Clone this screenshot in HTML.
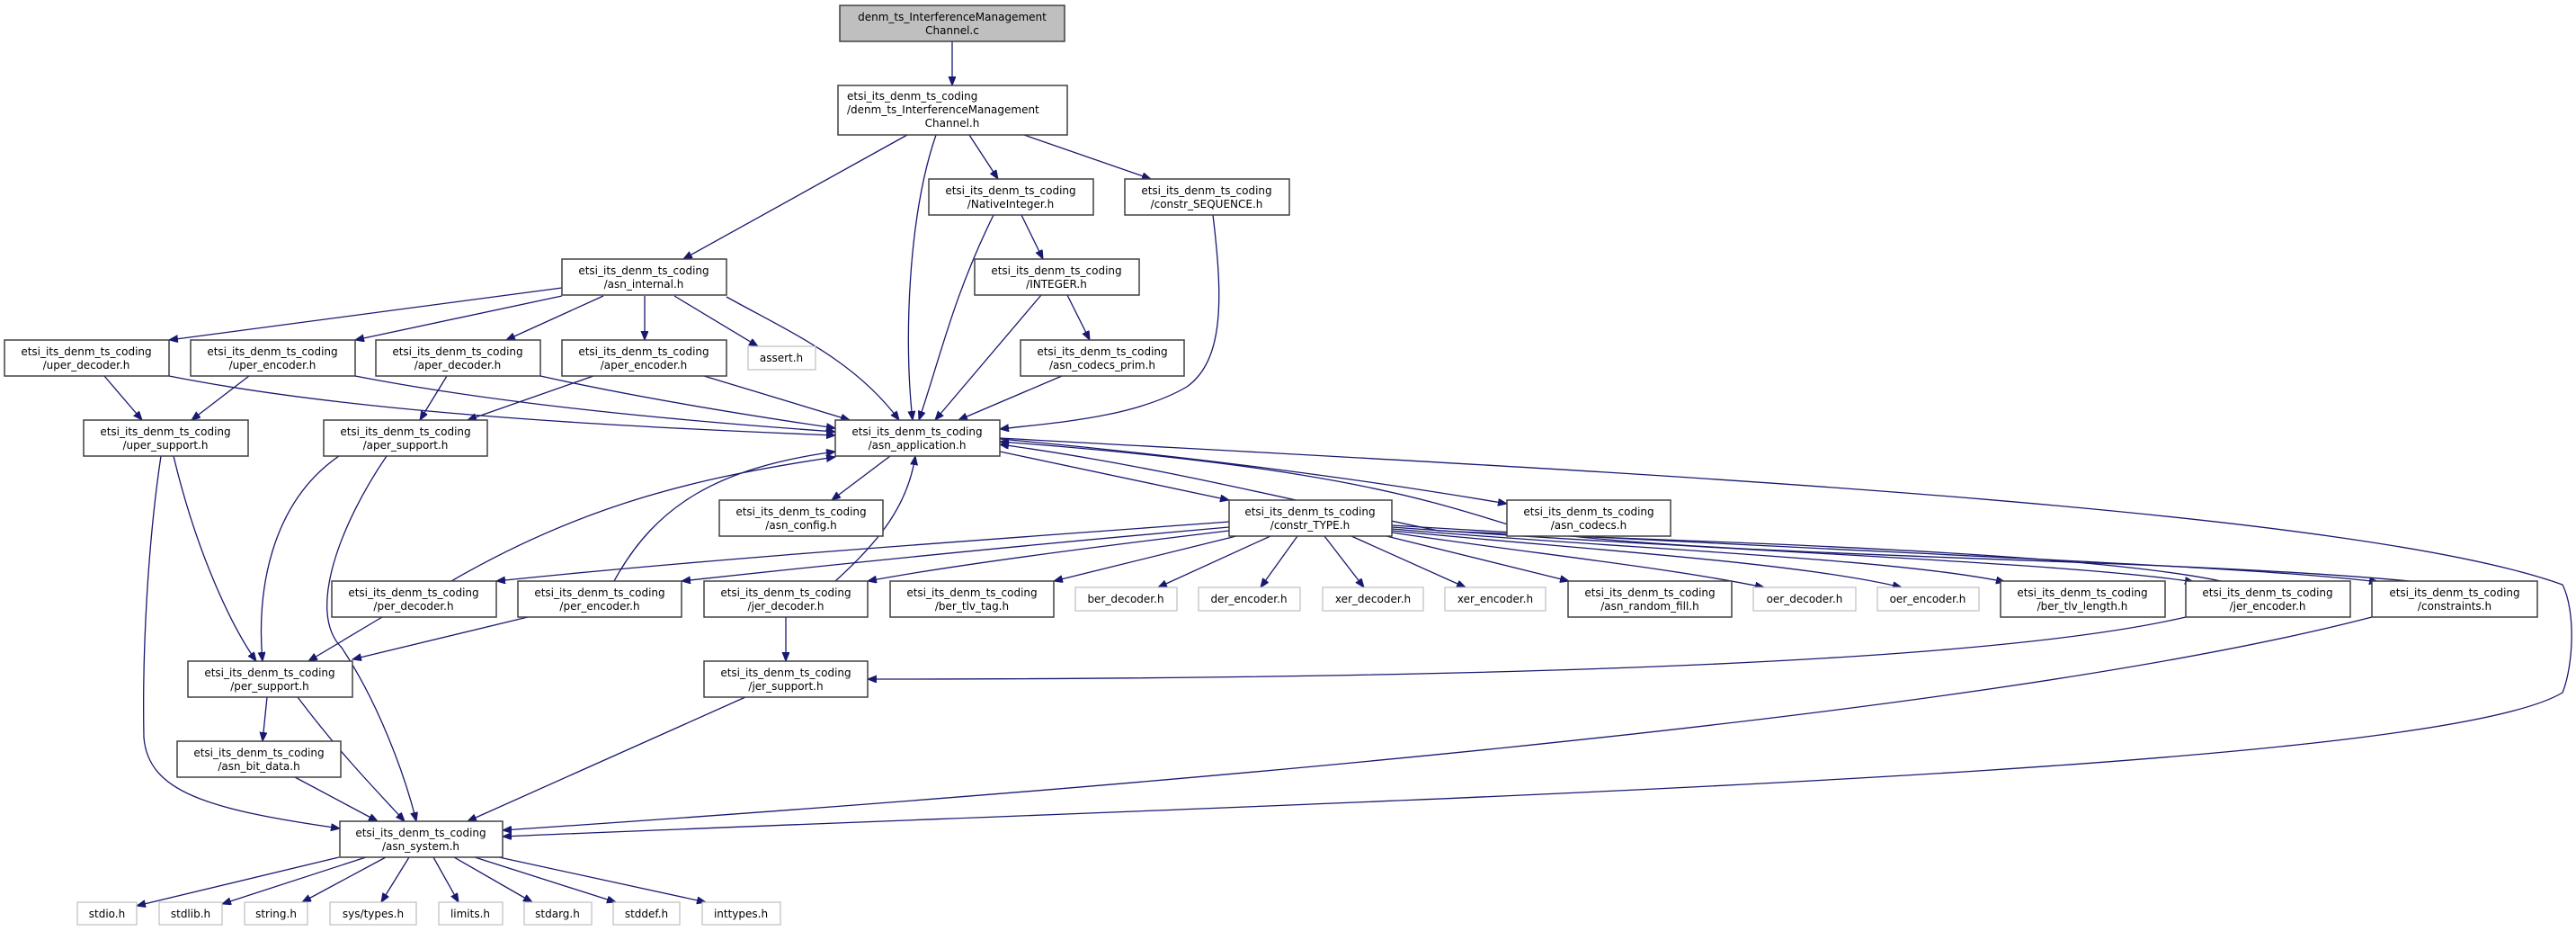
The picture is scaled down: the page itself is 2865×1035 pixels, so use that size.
<!DOCTYPE html>
<html><head><meta charset="utf-8"><style>
html,body{margin:0;padding:0;background:#fff;}
svg{display:block;}
text{font-family:"DejaVu Sans","Liberation Sans",sans-serif;font-size:12px;fill:#000;}
.e{fill:none;stroke:#191970;stroke-width:1.3;marker-end:url(#a);}
.n{fill:#fff;stroke:#404040;stroke-width:1.5;}
.g{fill:#fff;stroke:#bfbfbf;stroke-width:1.2;}
</style></head><body>
<svg width="2865" height="1035" viewBox="0 0 2865 1035" xmlns="http://www.w3.org/2000/svg">
<defs><marker id="a" markerUnits="userSpaceOnUse" markerWidth="11" markerHeight="9" refX="10" refY="4" orient="auto"><path d="M0,0 L10,4 L0,8 z" fill="#191970" stroke="#191970"/></marker></defs>

<!-- edges -->
<path class="e" d="M1059,46 L1059,95"/>
<path class="e" d="M1009,150 L760,288"/>
<path class="e" d="M1041,150 C1010,240 1005,380 1015,467"/>
<path class="e" d="M1078,150 L1110,199"/>
<path class="e" d="M1139,150 L1280,199"/>
<path class="e" d="M1105,239 C1060,330 1045,400 1022,467"/>
<path class="e" d="M1136,239 L1160,288"/>
<path class="e" d="M1349,239 C1360,330 1362,400 1320,430 C1260,465 1170,470 1112,477"/>
<path class="e" d="M1158,328 L1040,467"/>
<path class="e" d="M1187,328 L1212,378"/>
<path class="e" d="M1181,418 L1066,467"/>
<path class="e" d="M625,320 L188,378"/>
<path class="e" d="M625,329 L395,378"/>
<path class="e" d="M671,329 L563,378"/>
<path class="e" d="M717,329 L717,378"/>
<path class="e" d="M750,329 L843,385"/>
<path class="e" d="M808,330 C880,370 950,400 1000,467"/>
<path class="e" d="M116,418 L158,467"/>
<path class="e" d="M188,418 C400,460 700,475 929,484"/>
<path class="e" d="M277,418 L213,467"/>
<path class="e" d="M395,418 C560,450 760,468 929,480"/>
<path class="e" d="M497,418 L467,467"/>
<path class="e" d="M601,418 C700,440 820,460 929,476"/>
<path class="e" d="M660,418 L520,467"/>
<path class="e" d="M783,418 L945,467"/>
<path class="e" d="M179,507 C165,600 158,720 160,820 C165,880 230,900 378,921"/>
<path class="e" d="M193,507 C220,620 260,700 285,735"/>
<path class="e" d="M377,507 C300,560 285,660 292,735"/>
<path class="e" d="M430,507 C380,580 340,680 380,720 C420,780 450,860 463,913"/>
<path class="e" d="M990,507 L925,556"/>
<path class="e" d="M1112,502 L1367,556"/>
<path class="e" d="M1112,488 C1300,505 1500,530 1676,560"/>
<path class="e" d="M1112,487 C1700,520 2600,560 2850,650 C2865,680 2862,740 2850,770 C2700,860 1500,890 559,930"/>
<path class="e" d="M2638,686 C2200,800 1200,880 559,923"/>
<path class="e" d="M2431,686 C2200,740 1600,755 965,755"/>
<path class="e" d="M502,646 C650,560 780,530 929,508"/>
<path class="e" d="M683,646 C730,560 800,520 929,502"/>
<path class="e" d="M929,646 C980,600 1010,560 1018,507"/>
<path class="e" d="M2470,646 C2300,610 1800,600 1600,590 C1450,560 1300,520 1112,494"/>
<path class="e" d="M2680,646 C2400,620 1900,620 1700,590 C1600,560 1500,520 1112,491"/>
<path class="e" d="M1367,580 C1100,600 800,620 552,646"/>
<path class="e" d="M1367,586 C1150,605 950,625 758,646"/>
<path class="e" d="M1367,590 C1200,610 1050,630 965,646"/>
<path class="e" d="M1375,596 L1172,646"/>
<path class="e" d="M1413,596 L1288,653"/>
<path class="e" d="M1443,596 L1402,653"/>
<path class="e" d="M1473,596 L1517,653"/>
<path class="e" d="M1503,596 L1630,653"/>
<path class="e" d="M1542,596 L1745,646"/>
<path class="e" d="M1548,592 C1700,615 1850,630 1962,653"/>
<path class="e" d="M1548,590 C1750,610 2000,625 2115,653"/>
<path class="e" d="M1548,588 C1800,610 2100,620 2230,647"/>
<path class="e" d="M1548,586 C1900,612 2300,625 2440,647"/>
<path class="e" d="M1548,584 C2000,612 2500,628 2645,647"/>
<path class="e" d="M874,686 L874,735"/>
<path class="e" d="M829,775 L520,913"/>
<path class="e" d="M425,686 L343,735"/>
<path class="e" d="M587,686 L392,733"/>
<path class="e" d="M297,775 L292,824"/>
<path class="e" d="M331,775 C380,840 420,880 450,913"/>
<path class="e" d="M328,864 L420,913"/>
<path class="e" d="M377,953 L152,1007"/>
<path class="e" d="M407,953 L247,1005"/>
<path class="e" d="M429,953 L336,1003"/>
<path class="e" d="M455,953 L424,1003"/>
<path class="e" d="M482,953 L510,1003"/>
<path class="e" d="M505,953 L592,1003"/>
<path class="e" d="M528,953 L685,1003"/>
<path class="e" d="M555,953 L785,1003"/>

<!-- nodes -->
<rect x="934" y="6" width="250" height="40" fill="#bfbfbf" stroke="#404040" stroke-width="1.5"/>
<text x="1059" y="23" text-anchor="middle">denm_ts_InterferenceManagement</text>
<text x="1059" y="38" text-anchor="middle">Channel.c</text>

<rect class="n" x="932" y="95" width="255" height="55"/>
<text x="942" y="111">etsi_its_denm_ts_coding</text>
<text x="942" y="126">/denm_ts_InterferenceManagement</text>
<text x="1059" y="141" text-anchor="middle">Channel.h</text>

<g text-anchor="middle">
<rect class="n" x="1033" y="199" width="183" height="40"/><text x="1124" y="216">etsi_its_denm_ts_coding</text><text x="1124" y="231">/NativeInteger.h</text>
<rect class="n" x="1251" y="199" width="183" height="40"/><text x="1342" y="216">etsi_its_denm_ts_coding</text><text x="1342" y="231">/constr_SEQUENCE.h</text>
<rect class="n" x="1084" y="288" width="183" height="40"/><text x="1175" y="305">etsi_its_denm_ts_coding</text><text x="1175" y="320">/INTEGER.h</text>
<rect class="n" x="625" y="288" width="183" height="40"/><text x="716" y="305">etsi_its_denm_ts_coding</text><text x="716" y="320">/asn_internal.h</text>
<rect class="n" x="1135" y="378" width="182" height="40"/><text x="1226" y="395">etsi_its_denm_ts_coding</text><text x="1226" y="410">/asn_codecs_prim.h</text>
<rect class="n" x="5" y="378" width="183" height="40"/><text x="96" y="395">etsi_its_denm_ts_coding</text><text x="96" y="410">/uper_decoder.h</text>
<rect class="n" x="212" y="378" width="183" height="40"/><text x="303" y="395">etsi_its_denm_ts_coding</text><text x="303" y="410">/uper_encoder.h</text>
<rect class="n" x="418" y="378" width="183" height="40"/><text x="509" y="395">etsi_its_denm_ts_coding</text><text x="509" y="410">/aper_decoder.h</text>
<rect class="n" x="625" y="378" width="183" height="40"/><text x="716" y="395">etsi_its_denm_ts_coding</text><text x="716" y="410">/aper_encoder.h</text>
<rect class="g" x="832" y="385" width="75" height="26"/><text x="869" y="402">assert.h</text>
<rect class="n" x="93" y="467" width="183" height="40"/><text x="184" y="484">etsi_its_denm_ts_coding</text><text x="184" y="499">/uper_support.h</text>
<rect class="n" x="360" y="467" width="182" height="40"/><text x="451" y="484">etsi_its_denm_ts_coding</text><text x="451" y="499">/aper_support.h</text>
<rect class="n" x="929" y="467" width="183" height="40"/><text x="1020" y="484">etsi_its_denm_ts_coding</text><text x="1020" y="499">/asn_application.h</text>
<rect class="n" x="800" y="556" width="182" height="40"/><text x="891" y="573">etsi_its_denm_ts_coding</text><text x="891" y="588">/asn_config.h</text>
<rect class="n" x="1367" y="556" width="181" height="40"/><text x="1457" y="573">etsi_its_denm_ts_coding</text><text x="1457" y="588">/constr_TYPE.h</text>
<rect class="n" x="1676" y="556" width="182" height="40"/><text x="1767" y="573">etsi_its_denm_ts_coding</text><text x="1767" y="588">/asn_codecs.h</text>
<rect class="n" x="369" y="646" width="183" height="40"/><text x="460" y="663">etsi_its_denm_ts_coding</text><text x="460" y="678">/per_decoder.h</text>
<rect class="n" x="576" y="646" width="182" height="40"/><text x="667" y="663">etsi_its_denm_ts_coding</text><text x="667" y="678">/per_encoder.h</text>
<rect class="n" x="783" y="646" width="182" height="40"/><text x="874" y="663">etsi_its_denm_ts_coding</text><text x="874" y="678">/jer_decoder.h</text>
<rect class="n" x="990" y="646" width="182" height="40"/><text x="1081" y="663">etsi_its_denm_ts_coding</text><text x="1081" y="678">/ber_tlv_tag.h</text>
<rect class="g" x="1196" y="653" width="113" height="26"/><text x="1252" y="670">ber_decoder.h</text>
<rect class="g" x="1333" y="653" width="113" height="26"/><text x="1389" y="670">der_encoder.h</text>
<rect class="g" x="1471" y="653" width="112" height="26"/><text x="1527" y="670">xer_decoder.h</text>
<rect class="g" x="1607" y="653" width="112" height="26"/><text x="1663" y="670">xer_encoder.h</text>
<rect class="n" x="1744" y="646" width="182" height="40"/><text x="1835" y="663">etsi_its_denm_ts_coding</text><text x="1835" y="678">/asn_random_fill.h</text>
<rect class="g" x="1950" y="653" width="114" height="26"/><text x="2007" y="670">oer_decoder.h</text>
<rect class="g" x="2088" y="653" width="113" height="26"/><text x="2144" y="670">oer_encoder.h</text>
<rect class="n" x="2225" y="646" width="183" height="40"/><text x="2316" y="663">etsi_its_denm_ts_coding</text><text x="2316" y="678">/ber_tlv_length.h</text>
<rect class="n" x="2431" y="646" width="183" height="40"/><text x="2522" y="663">etsi_its_denm_ts_coding</text><text x="2522" y="678">/jer_encoder.h</text>
<rect class="n" x="2638" y="646" width="184" height="40"/><text x="2730" y="663">etsi_its_denm_ts_coding</text><text x="2730" y="678">/constraints.h</text>
<rect class="n" x="209" y="735" width="183" height="40"/><text x="300" y="752">etsi_its_denm_ts_coding</text><text x="300" y="767">/per_support.h</text>
<rect class="n" x="783" y="735" width="182" height="40"/><text x="874" y="752">etsi_its_denm_ts_coding</text><text x="874" y="767">/jer_support.h</text>
<rect class="n" x="197" y="824" width="182" height="40"/><text x="288" y="841">etsi_its_denm_ts_coding</text><text x="288" y="856">/asn_bit_data.h</text>
<rect class="n" x="378" y="913" width="181" height="40"/><text x="468" y="930">etsi_its_denm_ts_coding</text><text x="468" y="945">/asn_system.h</text>
<rect class="g" x="86" y="1003" width="66" height="25"/><text x="119" y="1020">stdio.h</text>
<rect class="g" x="177" y="1003" width="70" height="25"/><text x="212" y="1020">stdlib.h</text>
<rect class="g" x="272" y="1003" width="70" height="25"/><text x="307" y="1020">string.h</text>
<rect class="g" x="367" y="1003" width="96" height="25"/><text x="415" y="1020">sys/types.h</text>
<rect class="g" x="488" y="1003" width="71" height="25"/><text x="523" y="1020">limits.h</text>
<rect class="g" x="583" y="1003" width="75" height="25"/><text x="620" y="1020">stdarg.h</text>
<rect class="g" x="682" y="1003" width="74" height="25"/><text x="719" y="1020">stddef.h</text>
<rect class="g" x="781" y="1003" width="87" height="25"/><text x="824" y="1020">inttypes.h</text>
</g>
</svg>
</body></html>
